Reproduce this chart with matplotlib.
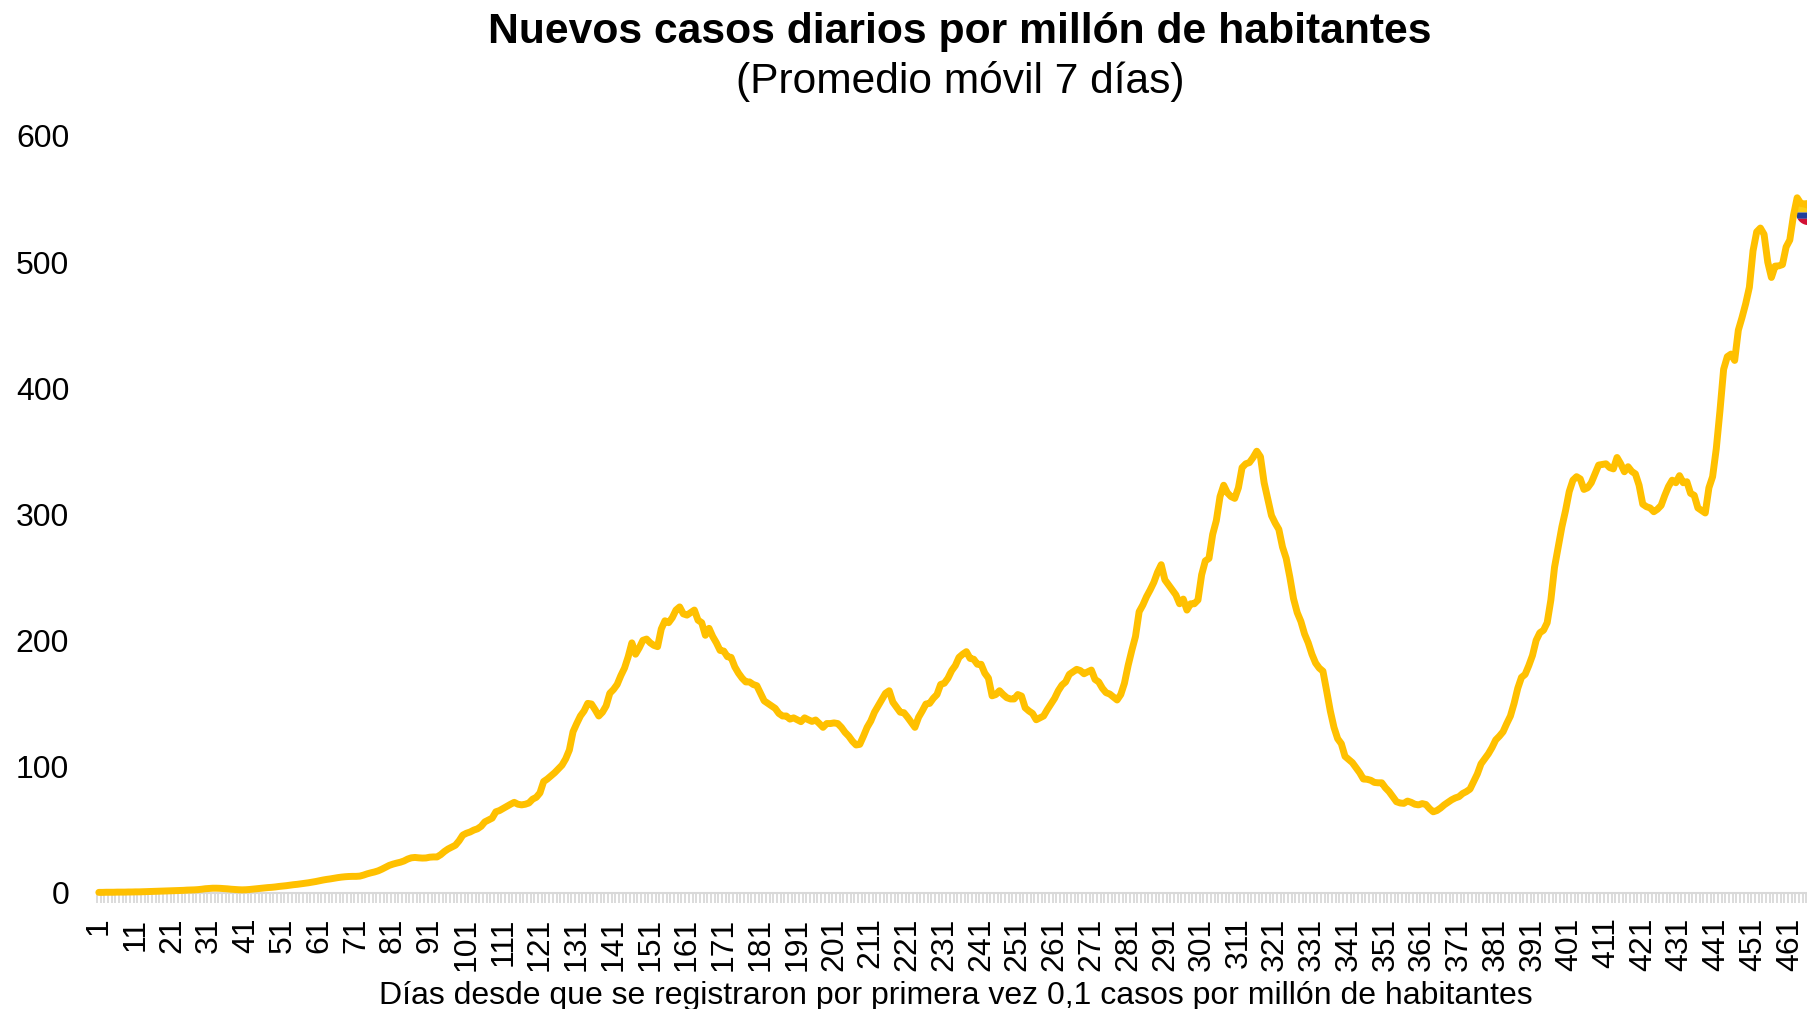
import numpy as np
import matplotlib
matplotlib.use("Agg")
import matplotlib.pyplot as plt
from matplotlib.path import Path
from matplotlib.ticker import FixedLocator

plt.rcParams['font.family'] = ['Liberation Sans', 'DejaVu Sans']

TITLE = "Nuevos casos diarios por millón de habitantes"
SUBTITLE = "(Promedio móvil 7 días)"
XLABEL = "Días desde que se registraron por primera vez 0,1 casos por millón de habitantes"

new_cases = [
    0.1, 0.1, 0.2, 0.2, 0.2, 0.3, 0.3, 0.3, 0.4, 0.4,
    0.5, 0.5, 0.6, 0.7, 0.8, 0.9, 1.0, 1.1, 1.2, 1.3,
    1.4, 1.5, 1.6, 1.7, 1.9, 2.0, 2.1, 2.3, 2.6, 3.0,
    3.2, 3.4, 3.4, 3.3, 3.1, 2.9, 2.6, 2.4, 2.2, 2.1,
    2.2, 2.4, 2.7, 3.0, 3.3, 3.6, 3.9, 4.1, 4.4, 4.8,
    5.1, 5.4, 5.8, 6.2, 6.5, 6.9, 7.3, 7.7, 8.2, 8.7,
    9.3, 9.9, 10.4, 10.8, 11.3, 11.8, 12.2, 12.5, 12.7, 12.8,
    12.8, 13.0, 13.8, 14.8, 15.6, 16.3, 17.2, 18.5, 20.0, 21.5,
    22.5, 23.3, 24.0, 25.0, 26.5, 27.5, 27.8, 27.5, 27.3, 27.4,
    28.0, 28.2, 28.2, 30.0, 32.5, 34.5, 36.0, 37.5, 41.0, 45.5,
    47.0, 48.0, 49.5, 50.5, 52.5, 56.0, 57.5, 59.0, 64.0, 65.0,
    66.7, 68.5, 70.0, 71.5, 70.0, 69.5, 70.0, 71.0, 74.0, 75.5,
    79.0, 88.0, 90.0, 92.5, 95.0, 98.0, 101.0, 106.0, 113.0, 127.5,
    134.0, 140.0, 144.0, 150.0, 149.5, 145.0, 140.0, 143.0, 148.0, 158.0,
    161.0, 165.0, 172.0, 178.0, 187.0, 198.0, 189.0, 194.0, 200.0, 201.0,
    198.0, 196.0, 195.0, 209.0, 215.5, 214.0, 218.0, 224.0, 226.5, 221.0,
    220.0, 222.0, 224.0, 216.0, 214.0, 204.0, 209.5, 203.0, 198.0, 192.0,
    191.5, 187.0, 186.5, 179.0, 174.0, 170.0, 167.0, 167.0, 165.0, 164.0,
    158.0, 152.0, 150.0, 148.0, 146.0, 142.0, 140.0, 140.0, 137.5, 138.5,
    137.0, 135.5, 138.5, 137.0, 135.7, 136.8, 134.0, 131.0, 134.0, 134.0,
    134.5, 134.0, 131.0, 127.0, 124.0, 120.0, 117.0, 117.5, 124.0, 131.0,
    136.0, 143.0, 148.0, 153.0, 158.0, 160.0, 151.0, 147.0, 143.0, 142.6,
    139.0, 135.0, 131.0, 139.0, 144.0, 149.5, 150.0, 154.0, 157.0, 165.0,
    166.0, 170.0, 176.0, 180.0, 186.5, 189.0, 191.0, 185.7, 185.0, 181.0,
    181.0, 174.0, 170.0, 156.0, 157.0, 160.0, 157.0, 154.5, 153.5, 153.5,
    157.0, 155.8, 146.5, 144.0, 142.0, 137.0, 138.5, 140.0, 145.0, 149.5,
    154.0, 160.0, 164.5, 167.0, 173.0, 175.0, 177.0, 176.0, 173.5, 175.0,
    176.4, 169.0, 167.0, 162.0, 158.5, 157.4, 155.0, 152.7, 157.0, 166.0,
    180.0, 192.0, 203.0, 222.7, 228.0, 234.6, 240.0, 246.0, 254.0, 260.0,
    248.0, 244.0, 240.0, 236.0, 229.0, 232.7, 224.0, 229.0, 229.0, 232.0,
    252.0, 263.0, 265.0, 284.0, 295.0, 314.0, 323.0, 317.0, 314.0, 312.6,
    321.0, 337.0, 340.0, 341.0, 345.0, 350.0, 345.6, 325.0, 312.0, 299.0,
    293.0, 288.0, 274.0, 265.0, 250.0, 233.0, 222.0, 215.0, 205.0, 198.0,
    189.0, 182.0, 178.0, 175.5, 160.0, 144.0, 131.0, 122.0, 118.0, 108.0,
    105.5, 103.0, 99.0, 95.0, 90.0, 89.8, 89.0, 87.3, 87.0, 87.0,
    83.0, 80.0, 76.0, 72.0, 71.0, 70.7, 72.5, 71.5, 70.0, 69.5,
    70.5, 69.8, 66.5, 64.0, 65.0, 67.0, 69.5, 71.5, 73.5, 75.0,
    76.0, 78.5, 80.0, 82.0, 88.0, 94.0, 102.0, 106.0, 110.0, 115.0,
    121.0, 124.0, 127.5, 134.0, 140.0, 150.0, 162.0, 170.6, 173.0, 180.0,
    188.0, 200.0, 206.0, 208.0, 214.0, 232.0, 258.0, 274.0, 290.0, 303.0,
    318.0, 327.0, 329.8, 328.0, 319.7, 321.0, 325.0, 332.0, 339.0, 339.5,
    340.0, 337.0, 336.0, 345.0, 340.0, 333.7, 337.7, 334.0, 332.0, 323.0,
    308.0, 306.0, 305.0, 302.0, 304.0, 307.0, 315.0, 322.0, 327.0, 325.0,
    330.6, 325.0, 325.8, 316.6, 315.0, 305.0, 303.0, 301.0, 321.0, 329.8,
    352.0, 382.0, 415.0, 425.0, 427.0, 422.0, 446.0, 456.0, 467.0, 480.0,
    509.0, 524.0, 527.0, 522.0, 500.0, 487.8, 496.8, 497.0, 498.0, 512.0,
    517.5, 537.0, 551.0, 546.5, 546.0, 545.0,
]
days = np.arange(1, len(new_cases) + 1)
flag_value = 540
y_ticks = [0, 100, 200, 300, 400, 500, 600]
x_labels = list(range(1, 462, 10))

W, H = 1807, 1009
fig = plt.figure(figsize=(W / 100, H / 100), dpi=100, facecolor='white')
ax = fig.add_axes([97 / W, 1 - 892.5 / H, (W - 97) / W, (892.5 - 136) / H])
ax.set_xlim(0.5, 0.5 + (W - 97) / 3.676)
ax.set_ylim(0, 600)

for s in ['top', 'right', 'left']:
    ax.spines[s].set_visible(False)
ax.spines['bottom'].set_color('#D9D9D9')
ax.spines['bottom'].set_linewidth(1.5)

ax.set_yticks(y_ticks)
ax.tick_params(axis='y', length=0, pad=20, labelsize=23, labelcolor='black')
ax.set_xticks(x_labels)
ax.set_xticklabels([str(v) for v in x_labels], rotation=90, ha='center', va='top')
ax.tick_params(axis='x', which='major', length=0, pad=18, labelsize=23, labelcolor='black')
ax.xaxis.set_minor_locator(FixedLocator(np.arange(0.5, 467, 1)))
ax.tick_params(axis='x', which='minor', length=7.5, width=1.3, color='#D9D9D9')


def band(y0, y1):
    a = np.linspace(np.arcsin(y0), np.arcsin(y1), 40)
    right = np.c_[np.cos(a), np.sin(a)]
    left = np.c_[-np.cos(a[::-1]), np.sin(a[::-1])]
    return Path(np.r_[right, left, right[:1]])


# Round flag marker (Colombia) behind the end of the line
for (y0, y1), c in [((0, 1), '#FCD116'), ((-0.5, 0), '#1F3F9C'), ((-1, -0.5), '#D21034')]:
    ax.scatter([days[-1]], [flag_value], marker=band(y0, y1), s=330, color=c,
               linewidths=0, zorder=3, clip_on=False)

ax.plot(days, new_cases, color='#FFC000', lw=5.0, solid_joinstyle='round',
        solid_capstyle='round', clip_on=False, zorder=4)

fig.text(960 / W, 1 - 31.5 / H, TITLE, ha='center', va='center', fontsize=30.7, fontweight='bold')
fig.text(960 / W, 1 - 82 / H, SUBTITLE, ha='center', va='center', fontsize=30.6)
fig.text(956 / W, 1 - 996 / H, XLABEL, ha='center', va='center', fontsize=23)

fig.savefig('out.png', dpi=100)
